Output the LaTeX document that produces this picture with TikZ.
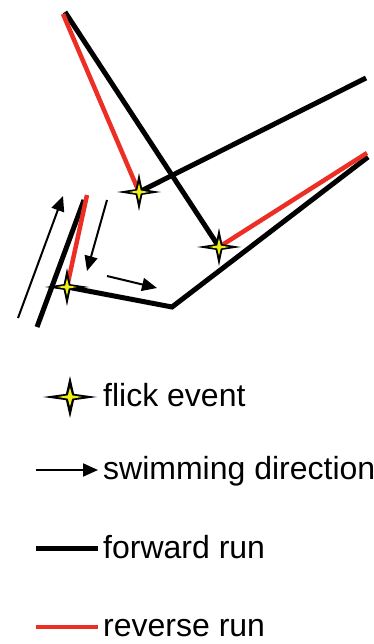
\documentclass[tikz,border=0pt]{standalone}
\usepackage{fontspec}
\setmainfont{Liberation Sans}
\usetikzlibrary{arrows.meta,calc}

\definecolor{runred}{RGB}{236,46,36}
\definecolor{flickyellow}{RGB}{238,238,24}

\tikzset{
  fwd/.style={line width=5pt, black},
  rev/.style={line width=4.5pt, runred},
  swim/.style={line width=2pt, -{Triangle[length=15pt,width=13pt]}},
  label/.style={anchor=base west, inner sep=0pt, font=\fontsize{32}{37}\selectfont},
  flick/.pic={
    \fill[black] (1,0) -- (0.15,0.15) -- (0,1) -- (-0.15,0.15) -- (-1,0)
      -- (-0.15,-0.15) -- (0,-1) -- (0.15,-0.15) -- cycle;
    \fill[flickyellow] (0.45,0) -- (0.08,0.08) -- (0,0.45) -- (-0.08,0.08) -- (-0.45,0)
      -- (-0.08,-0.08) -- (0,-0.45) -- (0.08,-0.08) -- cycle;
  }
}

\begin{document}
\begin{tikzpicture}[x=1pt, y=-1pt]
    \useasboundingbox (0,0) rectangle (374,644);

    % Track points
    \coordinate (startA) at (37,327);
    \coordinate (turnA) at (84,200);
    \coordinate (revA) at (87,195);
    \coordinate (flickC) at (67,287);
    \coordinate (corner) at (172,307);
    \coordinate (endB) at (368,157);
    \coordinate (revB) at (367,153);
    \coordinate (flickB) at (219,247);
    \coordinate (topFwd) at (65,12);
    \coordinate (topRev) at (63,14);
    \coordinate (flickA) at (139,192);
    \coordinate (endC) at (366,78);

    % Runs
    \draw[fwd] (startA) -- (turnA);
    \draw[rev] (revA) -- (flickC);
    \draw[fwd] (flickC) -- (corner) -- (endB);
    \draw[rev] (revB) -- (flickB);
    \draw[fwd] (flickB) -- (topFwd);
    \draw[rev] (topRev) -- (flickA);
    \draw[fwd] (flickA) -- (endC);

    % Flick events
    \pic[xscale=22, yscale=19] at (flickA) {flick};
    \pic[xscale=22, yscale=19] at (flickB) {flick};
    \pic[xscale=22, yscale=19] at (flickC) {flick};

    % Swimming direction
    \coordinate (upTail) at (18,318);
    \coordinate (upTip) at (63,196);
    \coordinate (downTail) at (107,200);
    \coordinate (downTip) at (87,271);
    \coordinate (rightTail) at (107,276);
    \coordinate (rightTip) at (157,288);
    \draw[swim] (upTail) -- (upTip);
    \draw[swim] (downTail) -- (downTip);
    \draw[swim] (rightTail) -- (rightTip);

    % Legend
    \coordinate (keyFlick) at (70,397);
    \pic[xscale=27, yscale=21] at (keyFlick) {flick};
    \node[label] (txtFlick) at (103,406) {flick event};

    \coordinate (keySwimA) at (36,470);
    \coordinate (keySwimB) at (98,470);
    \draw[swim] (keySwimA) -- (keySwimB);
    \node[label] (txtSwim) at (103,479) {swimming direction};

    \coordinate (keyFwdA) at (36,548);
    \coordinate (keyFwdB) at (98,548);
    \draw[fwd] (keyFwdA) -- (keyFwdB);
    \node[label] (txtFwd) at (103,558) {forward run};

    \coordinate (keyRevA) at (36,627);
    \coordinate (keyRevB) at (98,627);
    \draw[rev] (keyRevA) -- (keyRevB);
    \node[label] (txtRev) at (103,636) {reverse run};
\end{tikzpicture}
\end{document}
